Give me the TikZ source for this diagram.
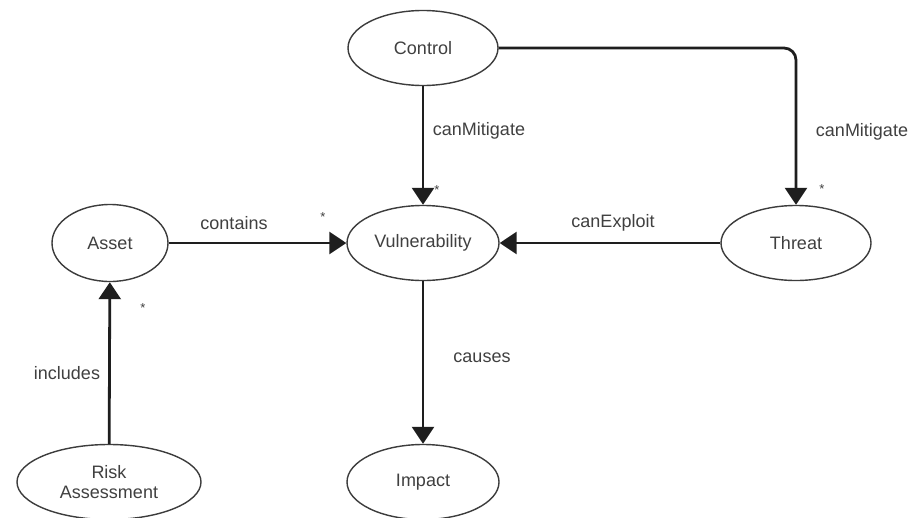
\documentclass[tikz,border=0pt]{standalone}
\usepackage{fontspec}
\setmainfont{Liberation Sans}
\usetikzlibrary{shapes.geometric,arrows.meta}
\definecolor{inkline}{HTML}{1E1E1E}
\definecolor{inkshape}{HTML}{3C3C3C}
\definecolor{inktext}{HTML}{404040}
\tikzset{
  concept/.style={ellipse, draw=inkshape, line width=1.4pt, fill=white,
    minimum width=150pt, minimum height=75pt, inner sep=0pt,
    text=inktext, font=\fontsize{18}{20}\selectfont, align=center},
  rel/.style={draw=inkline, line width=2.8pt,
    -{Triangle[width=22pt,length=17pt]}},
  lbl/.style={text=inktext, font=\fontsize{18}{20}\selectfont, inner sep=0pt},
  mult/.style={text=inktext, font=\fontsize{13}{14}\selectfont, inner sep=0pt}
}
\begin{document}
\begin{tikzpicture}[x=1pt,y=-1pt]
  \useasboundingbox[fill=white] (0,0) rectangle (913,517);

  % concepts
  \node[concept] (control) at (423,48) {Control};
  \node[concept, minimum width=152pt] (vuln) at (423,243) {Vulnerability};
  \node[concept] (threat) at (796,243) {Threat};
  \node[concept, minimum width=116pt, minimum height=77pt] (asset) at (110,243) {Asset};
  \node[concept, minimum width=184pt] (risk) at (109,482) {Risk\\Assessment};
  \node[concept, minimum width=152pt] (impact) at (423,482) {Impact};

  % relations
  \draw[rel] (control) -- (vuln);
  \draw[rel, rounded corners=12pt] (control.east) -| (threat.north);
  \draw[rel] (asset) -- (vuln);
  \draw[rel] (threat) -- (vuln);
  \draw[rel] (vuln) -- (impact);
  \draw[rel] (risk) -- (asset);

  % relation labels
  \node[lbl] (l1) at (479,131) {canMitigate};
  \node[lbl] (l2) at (862,132) {canMitigate};
  \node[lbl] (l3) at (234,223) {contains};
  \node[lbl] (l4) at (613,223) {canExploit};
  \node[lbl] (l5) at (482,358) {causes};
  \node[lbl] (l6) at (67,373) {includes};

  % multiplicities
  \node[mult] (m1) at (437,190) {*};
  \node[mult] (m2) at (822,189) {*};
  \node[mult] (m3) at (323,217) {*};
  \node[mult] (m4) at (143,308) {*};
\end{tikzpicture}
\end{document}
